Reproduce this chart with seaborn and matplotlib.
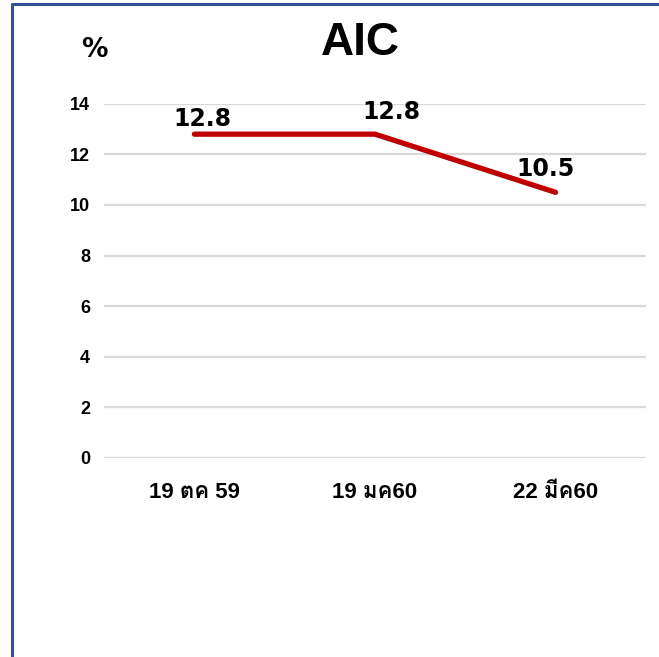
import matplotlib
matplotlib.use("Agg")
import matplotlib.pyplot as plt
from matplotlib import font_manager
from matplotlib.lines import Line2D
import seaborn as sns
import pandas as pd

# Survey dates and AIC percentages
dates = ["19 ตค 59", "19 มค60", "22 มีค60"]
aic_pct = [12.8, 12.8, 10.5]
y_ticks = [0, 2, 4, 6, 8, 10, 12, 14]

# Label nudges (points) for each value label
label_offsets = [(6, 11), (12, 16), (-7, 17)]


def find_thai_family():
    try:
        from fontTools.ttLib import TTFont
    except Exception:
        return None
    for f in font_manager.fontManager.ttflist:
        try:
            tt = TTFont(f.fname, fontNumber=0, lazy=True)
            cmap = tt.getBestCmap()
            if cmap and 0x0E04 in cmap and 0x0E21 in cmap and 0x0E35 in cmap:
                return f.name
        except Exception:
            continue
    return None


def installed(name):
    return any(f.name == name for f in font_manager.fontManager.ttflist)


sns.set_theme(style="white")
thai = find_thai_family()
narrow = "Liberation Sans Narrow" if installed("Liberation Sans Narrow") else "Liberation Sans"
title_size = 38 if narrow == "Liberation Sans Narrow" else 33
tick_fams = ["Liberation Sans"] + ([thai] if thai else []) + ["DejaVu Sans"]
plt.rcParams["font.family"] = tick_fams
plt.rcParams["text.color"] = "black"
plt.rcParams["xtick.color"] = "black"
plt.rcParams["ytick.color"] = "black"
plt.rcParams["xtick.labelcolor"] = "black"
plt.rcParams["ytick.labelcolor"] = "black"

df = pd.DataFrame({"date": dates, "pct": aic_pct})

fig = plt.figure(figsize=(6.59, 6.57), dpi=100)
ax = fig.add_axes([0.158, 0.303, 0.822, 0.539])

sns.lineplot(data=df, x="date", y="pct", ax=ax, color="#C00000",
             linewidth=3.8, solid_capstyle="round", sort=False)

ax.set_ylim(0, 14)
ax.set_xlim(-0.5, len(dates) - 0.5)
ax.set_yticks(y_ticks)
ax.set_yticklabels([str(t) for t in y_ticks], fontsize=13, fontweight="bold",
                   family=["Liberation Sans", "DejaVu Sans"], color="black")
ax.set_xticks(range(len(dates)))
ax.set_xticklabels(dates, fontsize=16, fontweight="bold", family=tick_fams,
                   color="black")
ax.tick_params(axis="both", length=0)
ax.tick_params(axis="x", pad=17)
ax.tick_params(axis="y", pad=10)
ax.set_xlabel("")
ax.set_ylabel("")
ax.grid(axis="y", color="#D9D9D9", linewidth=1.6)
ax.grid(axis="x", visible=False)
ax.set_axisbelow(True)
for s in ax.spines.values():
    s.set_visible(False)

for i, (v, off) in enumerate(zip(aic_pct, label_offsets)):
    ax.annotate(f"{v:.1f}", xy=(i, v), xytext=off, textcoords="offset points",
                ha="center", va="center", fontsize=17, fontweight="bold",
                family="DejaVu Sans", color="black", zorder=5)

fig.text(360 / 659, 1 - 43 / 657, "AIC", ha="center", va="center",
         fontsize=title_size, fontweight="bold", family=[narrow, "DejaVu Sans"],
         color="black")
fig.text(94 / 659, 1 - 50 / 657, "%", ha="center", va="center",
         fontsize=19, fontweight="bold", family="DejaVu Sans", color="black")

# Frame edges along the left and top
fig.add_artist(Line2D([11.5 / 659, 11.5 / 659, 1.0], [0.0, 1 - 4 / 657, 1 - 4 / 657],
                      transform=fig.transFigure, color="#2F5597", linewidth=2.2))

fig.savefig("out.png", dpi=100)
